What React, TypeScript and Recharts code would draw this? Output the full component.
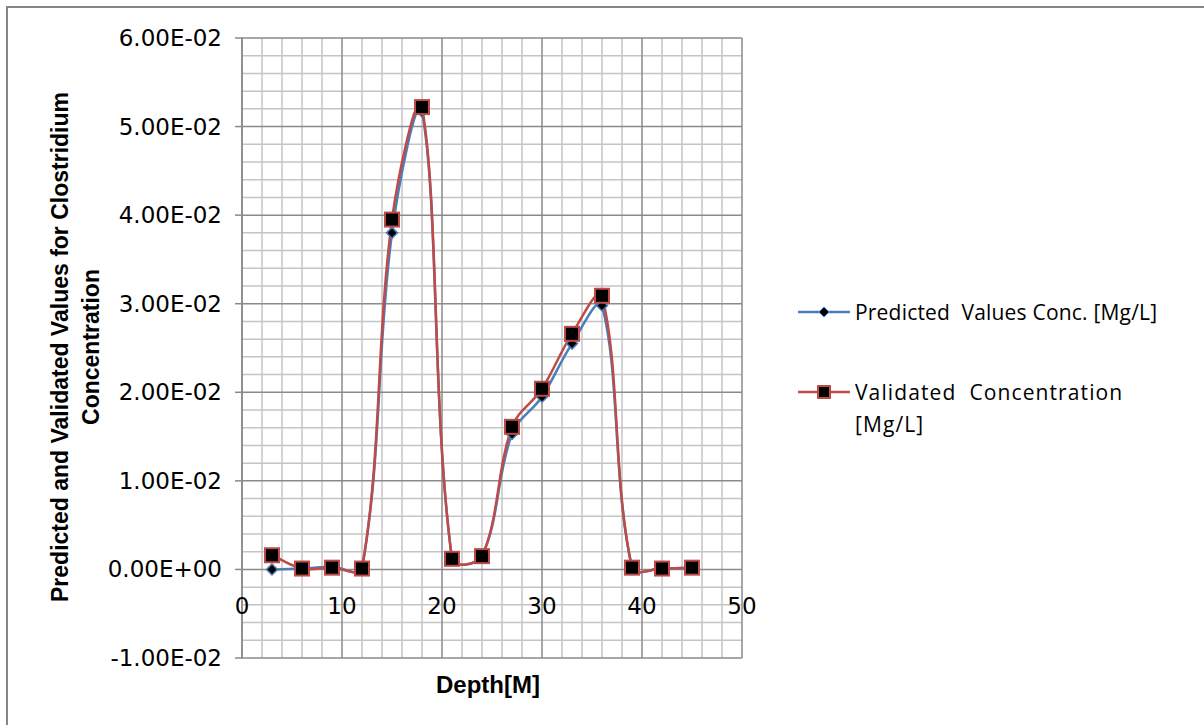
import React from 'react';
import {
  LineChart,
  Line,
  XAxis,
  YAxis,
  CartesianGrid,
  Legend,
} from 'recharts';

const depth = [3, 6, 9, 12, 15, 18, 21, 24, 27, 30, 33, 36, 39, 42, 45];
const predicted = [0, 0.0001, 0.0003, 0.0001, 0.038, 0.0517, 0.0012, 0.0015, 0.0153, 0.0195, 0.0255, 0.0298, 0.0002, 0.0001, 0.0002];
const validated = [0.0016, 0.0001, 0.0002, 0.0001, 0.0395, 0.0522, 0.0012, 0.0015, 0.0161, 0.0204, 0.0266, 0.0309, 0.0002, 0.0001, 0.0002];

const xTicks = [0, 10, 20, 30, 40, 50];
const yTicks = [-0.01, 0, 0.01, 0.02, 0.03, 0.04, 0.05, 0.06];
const yTickLabels = ['-1.00E-02', '0.00E+00', '1.00E-02', '2.00E-02', '3.00E-02', '4.00E-02', '5.00E-02', '6.00E-02'];
const xMinor = [2, 4, 6, 8, 12, 14, 16, 18, 22, 24, 26, 28, 32, 34, 36, 38, 42, 44, 46, 48];
const yMinor = [-0.008, -0.006, -0.004, -0.002, 0.002, 0.004, 0.006, 0.008, 0.012, 0.014, 0.016, 0.018, 0.022, 0.024, 0.026, 0.028, 0.032, 0.034, 0.036, 0.038, 0.042, 0.044, 0.046, 0.048, 0.052, 0.054, 0.056, 0.058];

const seriesNames = ['Predicted  Values Conc. [Mg/L]', 'Validated  Concentration [Mg/L]'];

const data = depth.map((d, i) => ({ depth: d, predicted: predicted[i], validated: validated[i] }));

const BLUE = '#4A7EBB';
const RED = '#BE4B48';
const MAJOR = '#8a8a8a';
const MINOR = '#c4c4c4';

// Excel-like smoothing: Bezier segments whose tangents are weighted by chord lengths
const smoothCurve: any = (context: any) => {
  let pts: number[][] = [];
  const dist = (a: number[], b: number[]) => Math.hypot(a[0] - b[0], a[1] - b[1]);
  return {
    areaStart() {},
    areaEnd() {},
    lineStart() {
      pts = [];
    },
    point(x: number, y: number) {
      pts.push([+x, +y]);
    },
    lineEnd() {
      const n = pts.length;
      if (!n) return;
      const k = 0.36;
      context.moveTo(pts[0][0], pts[0][1]);
      for (let i = 0; i < n - 1; i++) {
        const p0 = pts[i - 1] || pts[i];
        const p1 = pts[i];
        const p2 = pts[i + 1];
        const p3 = pts[i + 2] || p2;
        const d01 = dist(p0, p1);
        const d12 = dist(p1, p2);
        const d23 = dist(p2, p3);
        const a = d01 + d12 > 0 ? (k * d12) / (d01 + d12) : 0;
        const b = d12 + d23 > 0 ? (k * d12) / (d12 + d23) : 0;
        context.bezierCurveTo(
          p1[0] + (p2[0] - p0[0]) * a,
          p1[1] + (p2[1] - p0[1]) * a,
          p2[0] - (p3[0] - p1[0]) * b,
          p2[1] - (p3[1] - p1[1]) * b,
          p2[0],
          p2[1]
        );
      }
    },
  };
};

const Diamond = (props: any) => {
  const { cx, cy } = props;
  if (cx == null || cy == null) return null;
  const r = 5.5;
  return (
    <polygon
      key={`d-${cx}`}
      points={`${cx},${cy - r} ${cx + r},${cy} ${cx},${cy + r} ${cx - r},${cy}`}
      fill="#000"
      stroke={BLUE}
      strokeWidth={1.5}
    />
  );
};

const Square = (props: any) => {
  const { cx, cy } = props;
  if (cx == null || cy == null) return null;
  const s = 7;
  return (
    <rect
      key={`s-${cx}`}
      x={cx - s}
      y={cy - s}
      width={2 * s}
      height={2 * s}
      fill="#000"
      stroke={RED}
      strokeWidth={2}
    />
  );
};

const XTick = (props: any) => {
  const { x, y, payload } = props;
  return (
    <text x={x} y={y - 52} textAnchor="middle" dominantBaseline="central" fontFamily="DejaVu Sans" fontSize={23} fill="#000">
      {payload.value}
    </text>
  );
};

const YTick = (props: any) => {
  const { x, y, payload } = props;
  const idx = yTicks.findIndex((v) => Math.abs(v - payload.value) < 1e-9);
  return (
    <text x={x} y={y} textAnchor="end" dominantBaseline="central" fontFamily="DejaVu Sans" fontSize={23} fill="#000">
      {idx >= 0 ? yTickLabels[idx] : ''}
    </text>
  );
};

const LegendContent = () => {
  const textStyle: React.CSSProperties = {
    fontFamily: 'Open Sans',
    fontSize: 21,
    color: '#000',
    lineHeight: '32px',
  };
  return (
    <div style={{ position: 'relative', width: 400 }}>
      <div style={{ display: 'flex', alignItems: 'flex-start' }}>
        <svg width={60} height={32} style={{ flex: 'none' }}>
          <line x1={3} y1={16} x2={55} y2={16} stroke={BLUE} strokeWidth={2.5} />
          <polygon points="29,11 34,16 29,21 24,16" fill="#000" stroke={BLUE} strokeWidth={1} />
        </svg>
        <div style={{ ...textStyle, whiteSpace: 'pre', letterSpacing: 0.2 }}>{seriesNames[0]}</div>
      </div>
      <div style={{ display: 'flex', alignItems: 'flex-start', marginTop: 48 }}>
        <svg width={60} height={32} style={{ flex: 'none' }}>
          <line x1={3} y1={16} x2={55} y2={16} stroke={RED} strokeWidth={2.5} />
          <rect x={23} y={10} width={12} height={12} fill="#000" stroke={RED} strokeWidth={2} />
        </svg>
        <div style={{ ...textStyle, width: 300, whiteSpace: 'pre-wrap', letterSpacing: 1.1 }}>{seriesNames[1]}</div>
      </div>
    </div>
  );
};

export default function App() {
  return (
    <div style={{ position: 'absolute', left: 0, top: 0, width: 1204, height: 725, background: '#fff', overflow: 'hidden' }}>
      <svg width={1204} height={725} style={{ position: 'absolute', left: 0, top: 0 }}>
        <rect x={7} y={7} width={1220} height={740} fill="none" stroke="#868686" strokeWidth={2} />
        <text
          transform="translate(60,347) rotate(-90)"
          textAnchor="middle"
          dominantBaseline="central"
          fontFamily="Liberation Sans"
          fontWeight="bold"
          fontSize={23}
        >
          Predicted and Validated Values for Clostridium
        </text>
        <text
          transform="translate(91,347) rotate(-90)"
          textAnchor="middle"
          dominantBaseline="central"
          fontFamily="Liberation Sans"
          fontWeight="bold"
          fontSize={23}
        >
          Concentration
        </text>
        <text x={488} y={684} textAnchor="middle" dominantBaseline="central" fontFamily="Liberation Sans" fontWeight="bold" fontSize={24}>
          Depth[M]
        </text>
      </svg>
      <div style={{ position: 'absolute', left: 0, top: 0 }}>
        <LineChart
          width={1204}
          height={725}
          data={data}
          margin={{ top: 38, right: 462, bottom: 37, left: 0 }}
        >
          <CartesianGrid
            stroke={MINOR}
            strokeWidth={1.5}
            horizontalValues={yMinor}
            verticalValues={xMinor}
          />
          <CartesianGrid
            stroke={MAJOR}
            strokeWidth={1.5}
            horizontalValues={yTicks}
            verticalValues={xTicks}
          />
          <XAxis
            dataKey="depth"
            type="number"
            domain={[0, 50]}
            ticks={xTicks}
            height={30}
            axisLine={false}
            tickLine={false}
            tickSize={0}
            tickMargin={0}
            tick={<XTick />}
            interval={0}
          />
          <YAxis
            type="number"
            domain={[-0.01, 0.06]}
            ticks={yTicks}
            width={242}
            axisLine={{ stroke: MAJOR, strokeWidth: 1.5 }}
            tickLine={{ stroke: MAJOR, strokeWidth: 1.5 }}
            tickSize={7}
            tickMargin={13}
            tick={<YTick />}
            interval={0}
          />
          <Legend
            layout="horizontal"
            verticalAlign="middle"
            align="center"
            content={<LegendContent />}
            wrapperStyle={{ position: 'absolute', left: 795, top: 296, width: 400, height: 160 }}
          />
          <Line
            dataKey="predicted"
            name={seriesNames[0]}
            type={smoothCurve}
            stroke={BLUE}
            strokeWidth={2.5}
            dot={<Diamond />}
            isAnimationActive={false}
          />
          <Line
            dataKey="validated"
            name={seriesNames[1]}
            type={smoothCurve}
            stroke={RED}
            strokeWidth={2.5}
            dot={<Square />}
            isAnimationActive={false}
          />
        </LineChart>
      </div>
    </div>
  );
}
